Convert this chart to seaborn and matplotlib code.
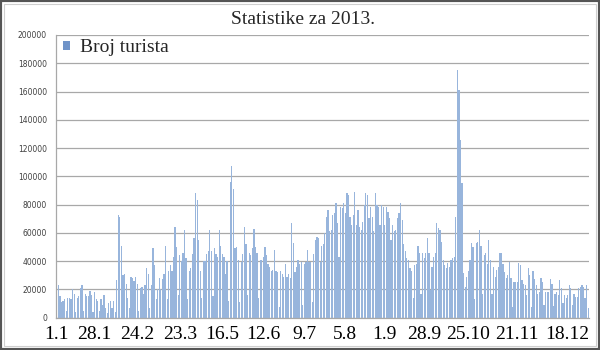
import matplotlib
matplotlib.use("Agg")
import matplotlib.pyplot as plt
from matplotlib.patches import Rectangle, Patch
import numpy as np
import pandas as pd
import seaborn as sns

# Daily tourist counts for 2013 (one bar per recorded day)
tourists = [
    36500, 23000, 15000, 11000, 12000, 13000, 5000, 14000, 14000, 13000, 20000,
    17000, 4000, 14000, 15000, 21000, 23000, 5000, 17000, 15000, 15000, 19000,
    16000, 4000, 18000, 13000, 12000, 5000, 13000, 9000, 16000, 7000, 3000,
    10000, 12000, 7000, 12000, 4000,
    26500, 72500, 71000, 51000, 30000,
    31000, 24000, 14000, 7000, 29000, 28000, 26000, 29000, 24000, 5000, 21000,
    22000, 17000, 23000, 35000, 31000, 7000, 23000, 49000,
    37000, 13000, 20000, 28000, 20000, 27000, 31000, 51000, 13000, 33000, 37000,
    33000, 43000, 64000,
    50000, 16000, 44000, 40000, 46000, 62000, 42000, 13000, 33000, 35000, 45000,
    56000,
    88000, 83000, 55000, 33000, 14000, 40000, 40000, 45000, 47000, 62000, 47000,
    15000, 49000, 45000, 43000, 62000, 51000, 45000, 43000, 31000, 40000, 12000,
    96000,
    107000, 91000, 49000, 50000, 41000, 11000, 39000, 45000, 64000, 52000, 16000,
    46000, 44000, 49000, 63000, 50000, 46000, 14000, 41000,
    41000, 43000, 50000, 44000, 38000, 36000, 33000, 34000, 48000, 33000, 32000,
    7500, 33000, 31000, 29000, 38000, 29000, 31000, 28000,
    67000, 53000, 32000, 36000, 41000, 38000, 39000, 9000, 38000, 39000, 48000,
    39000, 39000, 11000, 45000, 55000, 57000, 56000, 39000,
    51000, 52000, 60000, 71000, 76000, 61000, 62000, 72500, 74000, 81000, 67000,
    43000, 78000, 77500, 81000, 74000, 88000, 87000, 71000,
    65500, 72500, 89000, 65500, 76000, 64000, 62000, 67500, 79500, 88000, 87000,
    70500, 78000, 71000, 61000, 88000, 79500, 78000, 65500,
    79500, 78000, 65500, 78000, 75000, 70500, 55000, 65500, 61000, 62000, 70500,
    74000,
    81000, 69000, 52000, 47000, 42000, 41000, 35000, 33000, 14000, 37000, 38000,
    51000, 46000,
    17000, 46000, 42000, 45500, 56000, 46000, 19500, 36000, 43000, 45500, 67000,
    63500, 62000,
    53500, 41000, 37000, 35000, 38500, 36000, 41000, 42000, 43000, 71000, 175000,
    161000, 125500, 95000, 31500, 21500, 28500, 33000, 41000,
    52500, 50000, 13500, 52500, 53500, 62000, 51000, 17000, 44000, 45500, 38000,
    55000, 41000, 17000, 36000, 28500, 33500, 36000, 45500,
    46000, 38000, 32000, 28000, 30000, 39000, 28000, 7500, 25000, 25000, 25000,
    38500, 37000, 26500, 24000, 23000, 16000, 35000, 30000,
    7500, 33000, 27000, 23000, 17000, 18000, 28000, 25000, 9000, 18000, 18000,
    18000, 27000, 24000, 8000, 17000, 18000, 16000, 26500,
    21000, 10000, 16000, 14000, 16000, 23000, 21000, 9000, 17000, 14500, 14500,
    21000, 22000, 23000, 22000, 14000, 23000, 7000,
]

# Date labels shown under the axis and the bar index each one sits under
tick_labels = ["1.1", "28.1", "24.2", "23.3", "16.5", "12.6", "9.7",
               "5.8", "1.9", "28.9", "25.10", "21.11", "18.12"]
tick_days = [0, 24, 51, 78, 105, 131, 157, 183, 208, 233, 261, 292, 324]

series_name = "Broj turista"
title = "Statistike za 2013."

df = pd.DataFrame({"day": np.arange(len(tourists)), "count": tourists})

sns.set_style("white")
serif = ["Liberation Serif", "DejaVu Serif"]

W, H = 600, 350
fig = plt.figure(figsize=(W / 100, H / 100), dpi=100)
left, right, top, bottom = 56, 589, 35, 317.6
ax = fig.add_axes([left / W, 1 - bottom / H, (right - left) / W, (bottom - top) / H])

bar_color = "#98b5dc"
sns.barplot(data=df, x="day", y="count", color=bar_color, saturation=1,
            width=0.78, ax=ax, linewidth=0)

n = len(tourists)
ax.set_xlim(-0.5, n - 0.5)
ax.set_ylim(0, 200000)

grid_c = "#a8a8a8"
ax.set_yticks(np.arange(0, 200001, 20000))
ax.set_yticklabels([str(v) for v in range(0, 200001, 20000)],
                   fontsize=5.5, color="#404040")
ax.yaxis.grid(True, color=grid_c, linewidth=0.9)
ax.set_axisbelow(True)
ax.tick_params(axis="y", length=4.5, color=grid_c, width=0.9, pad=2)

ax.set_xticks(tick_days)
ax.set_xticklabels(tick_labels, fontsize=14, family=serif, color="black")
ax.set_xticks(np.arange(n) - 0.5, minor=True)
ax.tick_params(axis="x", which="major", length=0, pad=6)
ax.tick_params(axis="x", which="minor", length=2.5, color="#b8b8b8", width=0.6)

for s in ["top", "right"]:
    ax.spines[s].set_visible(False)
for s in ["left", "bottom"]:
    ax.spines[s].set_color(grid_c)
    ax.spines[s].set_linewidth(0.9)
ax.set_xlabel("")
ax.set_ylabel("")

fig.text(303 / W, 1 - 19 / H, title, ha="center", va="center",
         fontsize=14, family=serif)

handle = Patch(facecolor="#6f93c8", edgecolor="none")
ax.legend([handle], [series_name], loc="center left",
          bbox_to_anchor=(63 / W, 1 - 48 / H), bbox_transform=fig.transFigure,
          frameon=False, prop={"family": serif, "size": 14},
          handlelength=0.35, handleheight=0.35, handletextpad=0.55,
          borderpad=0, borderaxespad=0)

# chart frame and outer border
fig.patches.append(Rectangle((4 / W, 4 / H), 1 - 8 / W, 1 - 8 / H,
                             transform=fig.transFigure, fill=False,
                             edgecolor="#cfcfcf", linewidth=0.8))
fig.patches.append(Rectangle((0, 0), 1, 1, transform=fig.transFigure,
                             fill=False, edgecolor="#555555", linewidth=3))

fig.savefig("out.png", dpi=100)
